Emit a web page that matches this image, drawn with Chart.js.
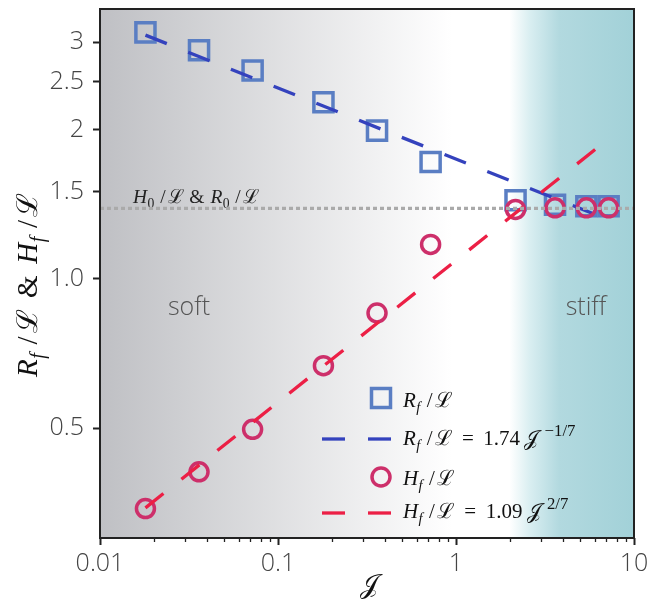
<!DOCTYPE html>
<html>
<head>
<meta charset="utf-8">
<script src="https://cdn.jsdelivr.net/npm/chart.js@4.4.1/dist/chart.umd.min.js"></script>
<style>
  html, body { margin: 0; padding: 0; background: #fff; }
  #wrap { width: 652px; height: 600px; position: relative; }
</style>
</head>
<body>
<div id="wrap"><canvas id="chart"></canvas></div>
<script>
// measured points (J, R_f/L, H_f/L)
const jValues = [0.018, 0.036, 0.072, 0.18, 0.36, 0.72, 2.16, 3.6, 5.4, 7.2];
const rfValues = [3.14, 2.89, 2.63, 2.27, 1.99, 1.72, 1.44, 1.41, 1.40, 1.40];
const hfValues = [0.344, 0.408, 0.497, 0.668, 0.853, 1.173, 1.38, 1.39, 1.39, 1.39];

const fitJ = [0.018, 7.0];
const rfFit = [3.10, 1.32];
const hfFit = [0.345, 1.90];

// initial value H0/L = R0/L
const refJ = [0.01, 10];
const refValue = [1.386, 1.386];

const xTickValues = [0.01, 0.1, 1, 10];
const xTickLabels = ['0.01', '0.1', '1', '10'];
const yTickValues = [0.5, 1, 1.5, 2, 2.5, 3];
const yTickLabels = ['0.5', '1.0', '1.5', '2', '2.5', '3'];

const SANS = '"Open Sans", "Noto Sans", sans-serif';
const SERIF = '"Liberation Serif", "DejaVu Serif", serif';

// background shading: gray (soft) -> white -> teal (stiff)
const bandStops = [
  [0.01, '#bfc0c4'],
  [0.95, '#ffffff'],
  [2.0, '#ffffff'],
  [2.6, '#d9eef1'],
  [3.8, '#b2d9df'],
  [10, '#a2d1d8']
];

function toPts(xs, ys) {
  return xs.map((x, i) => ({ x: x, y: ys[i] }));
}

// tiny mathtext: [text, kind] with kind i=italic, r=roman, sub, subr, sup, gap (em)
function mathSegs(ctx, parts, size) {
  return parts.map(([t, k]) => {
    if (k === 'gap') return { t: '', font: '', w: t * size, dy: 0 };
    const small = k === 'sub' || k === 'subr' || k === 'sup';
    const fs = small ? size * (k === 'sup' ? 0.8 : 0.7) : size;
    const italic = k === 'i' || k === 'sub';
    const font = (italic ? 'italic ' : '') + fs + 'px ' + SERIF;
    ctx.font = font;
    let dy = 0;
    if (k === 'sub' || k === 'subr') dy = size * 0.24;
    if (k === 'sup') dy = -size * 0.44;
    return { t, font, w: ctx.measureText(t).width, dy };
  });
}

function drawMath(ctx, parts, x, y, size, align) {
  const segs = mathSegs(ctx, parts, size);
  const total = segs.reduce((s, g) => s + g.w, 0);
  let cx = align === 'center' ? x - total / 2 : x;
  ctx.textAlign = 'left';
  ctx.textBaseline = 'alphabetic';
  segs.forEach(g => {
    if (g.t) {
      ctx.font = g.font;
      ctx.fillText(g.t, cx, y + g.dy);
    }
    cx += g.w;
  });
}

function fracL(sym, sub, subKind) {
  return [[sym, 'i'], [0.02, 'gap'], [sub, subKind], [0.3, 'gap'], ['/', 'r'], [0.1, 'gap'], ['ℒ', 'r']];
}

function powLaw(sym, coef, expo) {
  return [...fracL(sym, 'f', 'sub'), [0.45, 'gap'], ['=', 'r'], [0.45, 'gap'], [coef, 'r'], [0.2, 'gap'],
    ['𝒥', 'r'], [0.3, 'gap'], [expo, 'sup']];
}

const decorPlugin = {
  id: 'decor',
  beforeDatasetsDraw(chart) {
    const { ctx, chartArea: a, scales: { x } } = chart;
    const g = ctx.createLinearGradient(a.left, 0, a.right, 0);
    bandStops.forEach(([v, c]) => {
      const f = (x.getPixelForValue(v) - a.left) / (a.right - a.left);
      g.addColorStop(Math.min(1, Math.max(0, f)), c);
    });
    ctx.save();
    ctx.fillStyle = g;
    ctx.fillRect(a.left, a.top, a.width, a.height);

    ctx.fillStyle = '#555';
    ctx.font = '300 25px ' + SANS;
    ctx.textAlign = 'center';
    ctx.textBaseline = 'alphabetic';
    ctx.fillText('soft', 189, 315);
    ctx.fillText('stiff', 586, 315);

    ctx.fillStyle = '#222';
    drawMath(ctx, [...fracL('H', '0', 'subr'), [0.3, 'gap'], ['&', 'r'], [0.3, 'gap'],
      ...fracL('R', '0', 'subr')], 133, 203, 19.5, 'left');
    ctx.restore();
  },
  afterDatasetsDraw(chart) {
    const { ctx, chartArea: a, scales: { x } } = chart;
    const ds = chart.data.datasets;
    ctx.save();
    // frame
    ctx.strokeStyle = '#222';
    ctx.lineWidth = 2;
    ctx.strokeRect(a.left, a.top, a.width, a.height);

    // minor x ticks
    ctx.lineWidth = 1.3;
    [0.01, 0.1, 1].forEach(d => {
      for (let m = 2; m <= 9; m++) {
        const px = Math.round(x.getPixelForValue(m * d)) + 0.5;
        ctx.beginPath();
        ctx.moveTo(px, a.bottom);
        ctx.lineTo(px, a.bottom + 4);
        ctx.stroke();
      }
    });

    // legend
    ctx.lineWidth = ds[0].borderWidth;
    ctx.strokeStyle = ds[0].borderColor;
    ctx.strokeRect(371.5, 388.5, 19, 19);

    ctx.lineWidth = ds[1].borderWidth;
    ctx.strokeStyle = ds[1].borderColor;
    ctx.setLineDash(ds[1].borderDash);
    ctx.beginPath(); ctx.moveTo(322, 439); ctx.lineTo(392, 439); ctx.stroke();

    ctx.setLineDash([]);
    ctx.lineWidth = ds[2].borderWidth;
    ctx.strokeStyle = ds[2].borderColor;
    ctx.beginPath(); ctx.arc(381, 477, 9, 0, Math.PI * 2); ctx.stroke();

    ctx.lineWidth = ds[3].borderWidth;
    ctx.strokeStyle = ds[3].borderColor;
    ctx.setLineDash(ds[3].borderDash);
    ctx.beginPath(); ctx.moveTo(322, 513); ctx.lineTo(392, 513); ctx.stroke();
    ctx.setLineDash([]);

    ctx.fillStyle = '#111';
    drawMath(ctx, fracL('R', 'f', 'sub'), 403, 407, 21, 'left');
    drawMath(ctx, powLaw('R', '1.74', '−1/7'), 403, 445, 21, 'left');
    drawMath(ctx, fracL('H', 'f', 'sub'), 403, 485, 21, 'left');
    drawMath(ctx, powLaw('H', '1.09', '2/7'), 403, 518, 21, 'left');

    // axis titles
    ctx.fillStyle = '#111';
    drawMath(ctx, [['𝒥', 'r']], 369, 593, 27, 'center');
    ctx.translate(37, 285);
    ctx.rotate(-Math.PI / 2);
    drawMath(ctx, [...fracL('R', 'f', 'sub'), [0.4, 'gap'], ['&', 'r'], [0.4, 'gap'],
      ...fracL('H', 'f', 'sub')], 0, 0, 29, 'center');
    ctx.restore();
  }
};

const tickFont = { family: SANS, size: 25, weight: 300 };

new Chart(document.getElementById('chart'), {
  type: 'scatter',
  data: {
    datasets: [
      {
        label: 'R_f/L',
        data: toPts(jValues, rfValues),
        pointStyle: 'rect',
        pointRadius: 13.5,
        pointHoverRadius: 13.5,
        borderColor: '#5a7ec3',
        backgroundColor: 'rgba(0,0,0,0)',
        borderWidth: 3.5,
        pointBorderWidth: 3.5,
        showLine: false,
        clip: false,
        order: 5
      },
      {
        label: 'R_f/L fit',
        data: toPts(fitJ, rfFit),
        type: 'line',
        borderColor: '#3442bd',
        borderWidth: 3.3,
        borderDash: [23, 23],
        pointRadius: 0,
        fill: false,
        order: 4
      },
      {
        label: 'H_f/L',
        data: toPts(jValues, hfValues),
        pointStyle: 'circle',
        pointRadius: 9,
        pointHoverRadius: 9,
        borderColor: '#cd2f6a',
        backgroundColor: 'rgba(0,0,0,0)',
        borderWidth: 3.5,
        pointBorderWidth: 3.5,
        showLine: false,
        clip: false,
        order: 3
      },
      {
        label: 'H_f/L fit',
        data: toPts(fitJ, hfFit),
        type: 'line',
        borderColor: '#ec1f45',
        borderWidth: 3.3,
        borderDash: [23, 23],
        pointRadius: 0,
        fill: false,
        order: 2
      },
      {
        label: 'H0/L & R0/L',
        data: toPts(refJ, refValue),
        type: 'line',
        borderColor: '#aaaaaa',
        borderWidth: 3.2,
        borderDash: [4, 3],
        pointRadius: 0,
        fill: false,
        order: 1
      }
    ]
  },
  options: {
    responsive: true,
    maintainAspectRatio: false,
    animation: false,
    layout: { autoPadding: false, padding: { top: 9, right: 18, left: 0, bottom: 0 } },
    plugins: {
      legend: { display: false },
      tooltip: { enabled: false }
    },
    scales: {
      x: {
        type: 'logarithmic',
        min: 0.01,
        max: 10,
        afterBuildTicks: s => { s.ticks = xTickValues.map(v => ({ value: v })); },
        afterFit: s => { s.height = 62; s.paddingLeft = 0; s.paddingRight = 0; },
        border: { display: false },
        grid: { drawOnChartArea: false, drawTicks: true, tickLength: 7, tickWidth: 2, tickColor: '#222' },
        ticks: {
          autoSkip: false,
          maxRotation: 0,
          padding: 4,
          color: '#444',
          font: tickFont,
          callback: (v, i) => xTickLabels[i]
        }
      },
      y: {
        type: 'logarithmic',
        min: 0.309,
        max: 3.5,
        afterBuildTicks: s => { s.ticks = yTickValues.map(v => ({ value: v })); },
        afterFit: s => { s.width = 100; s.paddingTop = 0; s.paddingBottom = 0; },
        border: { display: false },
        grid: { drawOnChartArea: false, drawTicks: true, tickLength: 7, tickWidth: 2, tickColor: '#222' },
        ticks: {
          autoSkip: false,
          padding: 9,
          color: '#444',
          font: tickFont,
          callback: (v, i) => yTickLabels[i]
        }
      }
    }
  },
  plugins: [decorPlugin]
});
</script>
</body>
</html>
